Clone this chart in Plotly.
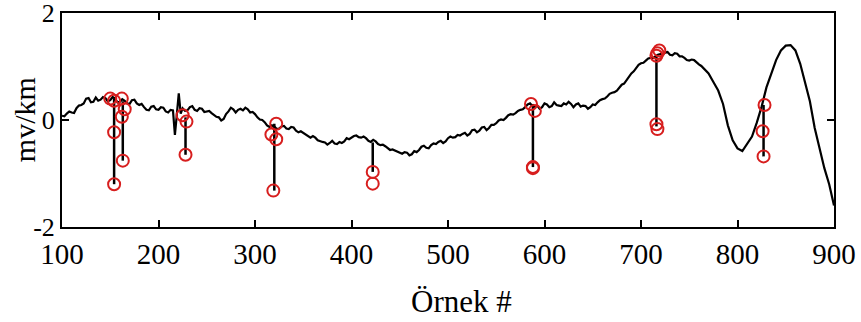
import plotly.graph_objects as go

# Signal curve
curve_x = [100, 105, 110, 115, 120, 125, 130, 135, 140, 145, 150, 155, 160, 165, 170, 175, 180, 185, 190, 195,
           200, 205, 210, 215, 217, 219, 221, 223, 225, 230, 235, 240, 245, 250, 255, 260, 265, 270, 275, 280,
           285, 290, 295, 300, 305, 310, 315, 320, 325, 330, 335, 340, 345, 350, 355, 360, 365, 370, 375, 380,
           385, 390, 395, 400, 405, 410, 415, 420, 425, 430, 435, 440, 445, 450, 455, 460, 465, 470, 475, 480,
           485, 490, 495, 500, 505, 510, 515, 520, 525, 530, 535, 540, 545, 550, 555, 560, 565, 570, 575, 580,
           585, 590, 595, 600, 605, 610, 615, 620, 625, 630, 635, 640, 645, 650, 655, 660, 665, 670, 675, 680,
           685, 690, 695, 700, 705, 710, 715, 720, 725, 730, 735, 740, 745, 750, 755, 760, 765, 770, 775, 780,
           785, 790, 795, 800, 805, 810, 815, 820, 825, 830, 835, 840, 845, 850, 855, 860, 865, 870, 875, 880,
           885, 890, 895, 900]
curve_y = [0.08, 0.12, 0.14, 0.22, 0.28, 0.40, 0.33, 0.42, 0.38, 0.41, 0.37, 0.40, 0.34, 0.36, 0.30, 0.38, 0.28, 0.24, 0.18, 0.26,
           0.19, 0.23, 0.14, 0.18, -0.28, 0.10, 0.50, 0.12, 0.22, 0.18, 0.26, 0.17, 0.21, 0.16, 0.13, 0.06, -0.01, 0.11, 0.23, 0.14,
           0.21, 0.23, 0.14, 0.11, 0.01, -0.04, -0.13, -0.12, -0.16, -0.11, -0.17, -0.14, -0.23, -0.24, -0.31, -0.30, -0.38, -0.41, -0.46, -0.39,
           -0.45, -0.43, -0.34, -0.33, -0.29, -0.33, -0.34, -0.41, -0.40, -0.47, -0.49, -0.56, -0.57, -0.61, -0.60, -0.66, -0.58, -0.56, -0.48, -0.53,
           -0.44, -0.41, -0.43, -0.34, -0.33, -0.28, -0.26, -0.29, -0.19, -0.23, -0.14, -0.19, -0.09, -0.06, 0.01, 0.04, 0.11, 0.13, 0.19, 0.24,
           0.31, 0.24, 0.21, 0.31, 0.24, 0.33, 0.27, 0.31, 0.34, 0.24, 0.31, 0.27, 0.21, 0.29, 0.33, 0.39, 0.44, 0.51, 0.55, 0.66,
           0.74, 0.87, 0.97, 1.06, 1.11, 1.16, 1.19, 1.23, 1.26, 1.22, 1.25, 1.19, 1.16, 1.11, 1.12, 1.04, 0.96, 0.87, 0.71, 0.55,
           0.30, -0.10, -0.38, -0.53, -0.58, -0.45, -0.31, -0.05, 0.25, 0.61, 0.88, 1.12, 1.30, 1.39, 1.40, 1.30, 1.05, 0.70, 0.35, -0.15,
           -0.55, -0.90, -1.20, -1.60]

# Extra in-between samples of the noisy curve
fine_x = [102.5, 107.5, 112.5, 117.5, 122.5, 127.5, 132.5, 137.5, 142.5, 147.5, 152.5, 157.5, 162.5, 167.5, 172.5,
          177.5, 182.5, 187.5, 192.5, 197.5, 202.5, 207.5, 212.5, 227.5, 232.5, 237.5, 242.5, 247.5, 252.5, 257.5,
          262.5, 267.5, 272.5, 277.5, 282.5, 287.5, 292.5, 297.5, 302.5, 307.5, 312.5, 317.5, 322.5, 327.5, 332.5,
          337.5, 342.5, 347.5, 352.5, 357.5, 362.5, 367.5, 372.5, 377.5, 382.5, 387.5, 392.5, 397.5, 402.5, 407.5,
          412.5, 417.5, 422.5, 427.5, 432.5, 437.5, 442.5, 447.5, 452.5, 457.5, 462.5, 467.5, 472.5, 477.5, 482.5,
          487.5, 492.5, 497.5, 502.5, 507.5, 512.5, 517.5, 522.5, 527.5, 532.5, 537.5, 542.5, 547.5, 552.5, 557.5,
          562.5, 567.5, 572.5, 577.5, 582.5, 587.5, 592.5, 597.5, 602.5, 607.5, 612.5, 617.5, 622.5, 627.5, 632.5,
          637.5, 642.5, 647.5, 652.5, 657.5, 662.5, 667.5, 672.5, 677.5, 682.5, 687.5, 692.5, 697.5, 702.5, 707.5,
          712.5, 717.5, 722.5, 727.5, 732.5, 737.5, 742.5, 747.5, 752.5, 757.5, 762.5]
fine_y = [0.07, 0.16, 0.13, 0.27, 0.31, 0.41, 0.34, 0.36, 0.43, 0.35, 0.43, 0.33, 0.39, 0.31, 0.37,
          0.31, 0.30, 0.19, 0.25, 0.20, 0.24, 0.16, 0.19, 0.17, 0.24, 0.19, 0.22, 0.15, 0.17, 0.10,
          0.05, 0.02, 0.16, 0.20, 0.19, 0.18, 0.20, 0.15, 0.05, 0.00, -0.10, -0.10, -0.17, -0.12, -0.16,
          -0.13, -0.20, -0.21, -0.28, -0.33, -0.33, -0.40, -0.42, -0.43, -0.44, -0.41, -0.40, -0.36, -0.30, -0.32,
          -0.31, -0.39, -0.37, -0.45, -0.46, -0.53, -0.55, -0.60, -0.63, -0.61, -0.64, -0.60, -0.50, -0.52, -0.47,
          -0.45, -0.39, -0.40, -0.31, -0.32, -0.29, -0.24, -0.26, -0.18, -0.20, -0.13, -0.15, -0.09, -0.01, 0.00,
          0.09, 0.10, 0.17, 0.20, 0.29, 0.26, 0.27, 0.24, 0.29, 0.26, 0.28, 0.26, 0.29, 0.30, 0.29,
          0.25, 0.26, 0.24, 0.28, 0.37, 0.40, 0.49, 0.52, 0.61, 0.68, 0.82, 0.91, 1.03, 1.07, 1.15,
          1.16, 1.22, 1.23, 1.27, 1.21, 1.24, 1.19, 1.12, 1.13, 1.07, 1.01]

# Vertical stems (top and bottom values)
stem_x = [154, 163, 228, 320, 422, 588, 716, 827]
stem_top = [0.40, 0.35, 0.05, -0.07, -0.42, 0.30, 1.22, 0.28]
stem_bottom = [-1.20, -0.76, -0.65, -1.32, -0.97, -0.88, -0.12, -0.68]

# Red circle markers
circle_x = [150, 154, 162, 165, 162, 154, 154, 163,
            225, 229, 228,
            322, 317, 322, 319,
            422, 422,
            586, 590, 588, 588,
            716, 719, 717, 716, 717,
            828, 826, 827]
circle_y = [0.40, 0.36, 0.40, 0.20, 0.06, -0.23, -1.20, -0.76,
            0.09, -0.03, -0.65,
            -0.07, -0.27, -0.36, -1.32,
            -0.97, -1.19,
            0.30, 0.17, -0.88, -0.90,
            1.20, 1.30, 1.25, -0.08, -0.17,
            0.28, -0.21, -0.68]

y_tickvals = [-2, 0, 2]
y_ticktext = ["-2", "0", "2"]
x_tickvals = [100, 200, 300, 400, 500, 600, 700, 800, 900]

pts = sorted(zip(curve_x + fine_x, curve_y + fine_y))
line_x = [p[0] for p in pts]
line_y = [p[1] for p in pts]

sx, sy = [], []
for x, t, b in zip(stem_x, stem_top, stem_bottom):
    sx += [x, x, None]
    sy += [t, b, None]

fig = go.Figure()
fig.add_trace(go.Scatter(x=line_x, y=line_y, mode="lines",
                         line=dict(color="black", width=2.2), showlegend=False))
fig.add_trace(go.Scatter(x=sx, y=sy, mode="lines",
                         line=dict(color="black", width=2.5), showlegend=False))
fig.add_trace(go.Scatter(x=circle_x, y=circle_y, mode="markers",
                         marker=dict(symbol="circle-open", size=12, color="rgb(215,30,30)",
                                     line=dict(width=2, color="rgb(215,30,30)")),
                         showlegend=False))

font_family = "'Times New Roman', 'Liberation Serif', Tinos, serif"
fig.update_layout(
    width=861, height=322,
    margin=dict(l=62, r=27, t=13, b=95),
    paper_bgcolor="white", plot_bgcolor="white",
    font=dict(family=font_family, size=28, color="black"),
    xaxis=dict(range=[100, 900], tickvals=x_tickvals, ticks="inside", ticklen=7,
               tickwidth=1.5, tickcolor="black", showline=True, linecolor="black",
               linewidth=2, mirror="ticks", showgrid=False, zeroline=False,
               tickfont=dict(family=font_family, size=29), automargin=False,
               ticklabeloverflow="allow"),
    yaxis=dict(range=[-2.0001, 2.0001], tickvals=y_tickvals, ticktext=y_ticktext, ticks="inside",
               ticklen=7, tickwidth=1.5, tickcolor="black", showline=True, linecolor="black",
               linewidth=2, mirror="ticks", showgrid=False, zeroline=False,
               tickfont=dict(family=font_family, size=26), automargin=False,
               ticklabeloverflow="allow"),
    annotations=[
        dict(text="Örnek #", xref="paper", yref="paper", x=0.517, y=-0.35,
             xanchor="center", yanchor="middle", showarrow=False,
             font=dict(family=font_family, size=31)),
        dict(text="mv/km", xref="paper", yref="paper", x=-0.049, y=0.5,
             xanchor="center", yanchor="middle", textangle=-90, showarrow=False,
             font=dict(family=font_family, size=30)),
    ],
)

fig.write_html("out.html")
